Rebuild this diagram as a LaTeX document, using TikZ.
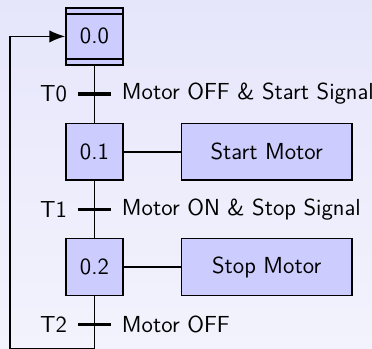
\documentclass[tikz,border=0pt]{standalone}
\usepackage{tikz}
\usetikzlibrary{arrows.meta,positioning,calc}
\usepackage{xcolor}
\definecolor{stepfill}{HTML}{CCCCFF}
\definecolor{bgtop}{HTML}{E6E6FB}
\definecolor{bgbot}{HTML}{F3F3FD}

\begin{document}
\begin{tikzpicture}[
    font=\fontsize{11.6}{14}\selectfont\sffamily,
    stepbox/.style={draw,thick,fill=stepfill,minimum size=1cm,inner sep=0pt},
    actbox/.style={draw,thick,fill=stepfill,minimum width=3cm,minimum height=1cm},
    wire/.style={thick},
    trbar/.style={line width=1.6pt}
  ]
  % Background
  \fill[top color=bgtop,bottom color=bgbot] (-1.66,0.64) rectangle (4.88,-5.49);
  \useasboundingbox (-1.66,0.64) rectangle (4.88,-5.49);
  % Steps
  \node[stepbox] (s0) at (0,0) {0.0};
  \node[stepbox, below=1cm of s0] (s1) {0.1};
  \node[stepbox, below=1cm of s1] (s2) {0.2};
  \draw[thick] ($(s0.north west)+(0,-3.4pt)$) -- ($(s0.north east)+(0,-3.4pt)$);
  \draw[thick] ($(s0.south west)+(0,3.4pt)$) -- ($(s0.south east)+(0,3.4pt)$);
  % Actions
  \node[actbox, right=1cm of s1] (a1) {Start Motor};
  \node[actbox, right=1cm of s2] (a2) {Stop Motor};
  \draw[wire] (s1) -- (a1);
  \draw[wire] (s2) -- (a2);
  % Transitions
  \coordinate (t0) at ($(s0.south)!0.5!(s1.north)$);
  \coordinate (t1) at ($(s1.south)!0.5!(s2.north)$);
  \coordinate (t2) at ($(s2.south)+(0,-0.5)$);
  \coordinate (lp) at ($(s2.south)+(0,-0.93)$);
  \coordinate (lq) at ($(lp)+(-1.48,0)$);
  \draw[wire] (s0) -- (s1);
  \draw[wire] (s1) -- (s2);
  \draw[wire,-{Latex[length=2.8mm,width=2.2mm]}] (s2.south) -- (lp) -- (lq) |- (s0.west);
  \foreach \t/\l/\c in {t0/T0/Motor OFF \& Start Signal,t1/T1/Motor ON \& Stop Signal,t2/T2/Motor OFF}{
    \draw[trbar] ($(\t)+(-0.29,0)$) -- ($(\t)+(0.29,0)$);
    \node[left=2pt of {$(\t)+(-0.29,0)$}, inner sep=3.33pt] (\t l) {\l};
    \node[right=2pt of {$(\t)+(0.29,0)$}, inner sep=3.33pt] (\t c) {\c};
  }
\end{tikzpicture}
\end{document}
